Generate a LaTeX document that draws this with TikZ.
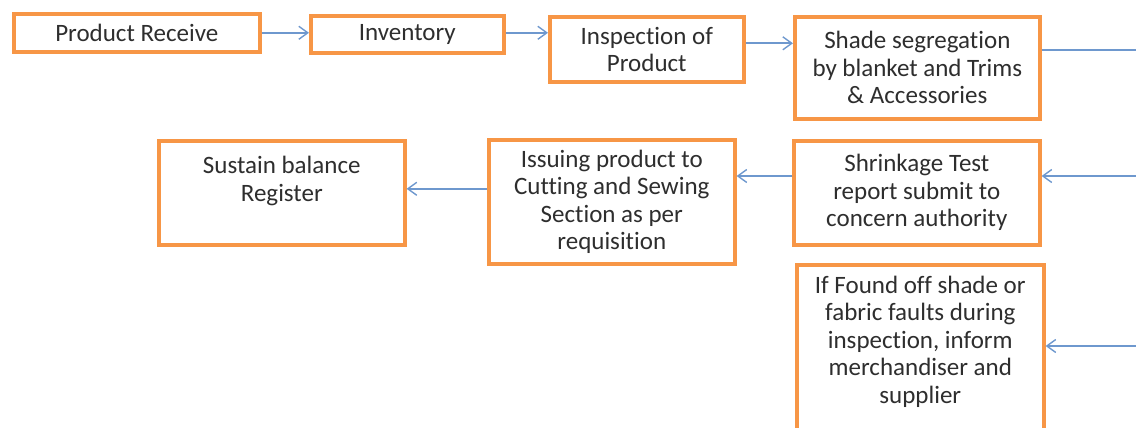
\documentclass[tikz,border=0pt]{standalone}
\usepackage{fontspec}
\setmainfont{Carlito}[Ligatures={NoCommon}]
\usetikzlibrary{arrows.meta}
\definecolor{boxorange}{RGB}{247,150,70}
\definecolor{flowblue}{RGB}{110,152,206}
\begin{document}
\begin{tikzpicture}[x=1pt,y=-1pt,
  box/.style={draw=boxorange,line width=3.6pt,fill=white,anchor=north west,align=center,inner sep=0pt,
    text=black!82,font=\fontsize{25}{27.5}\selectfont},
  flow/.style={draw=flowblue,line width=1.6pt,-{Straight Barb[length=9pt,width=13pt,line width=1.4pt]}}]
\useasboundingbox (0,0) rectangle (1136,428);
%\draw[help lines] (0,0) grid (1136,428);
\node[box,minimum width=246pt,minimum height=38pt] (PR) at (12,12) {Product Receive};
\node[box,minimum width=193pt,minimum height=37pt] (Inv) at (309,14) {Inventory};
\node[box,minimum width=194pt,minimum height=65pt] (Insp) at (548,15) {Inspection of\\Product};
\node[box,minimum width=245pt,minimum height=102pt] (Shade) at (793,15) {Shade segregation\\by blanket and Trims\\\& Accessories};
\node[box,minimum width=246pt,minimum height=104pt] (Sust) at (157,139) {Sustain balance\\Register\\\mbox{}};
\node[box,minimum width=246pt,minimum height=124pt] (Issue) at (487,138) {Issuing product to\\Cutting and Sewing\\Section as per\\requisition};
\node[box,minimum width=246pt,minimum height=104pt] (Shrink) at (792,139) {Shrinkage Test\\report submit to\\concern authority};
\node[box,minimum width=247pt,minimum height=177pt] (Fault) at (795,263) {If Found off shade or\\fabric faults during\\inspection, inform\\merchandiser and\\supplier\\\mbox{}};
\coordinate (EdgeA) at (1136,50);
\coordinate (EdgeB) at (1136,176);
\coordinate (EdgeC) at (1136,346);
\draw[flow] (PR.east) -- (PR.east -| Inv.west);
\draw[flow] ([yshift=1.5pt]Inv.east) -- ([yshift=1.5pt]Inv.east -| Insp.west);
\draw[flow] ([yshift=6pt]Insp.east) -- ([yshift=6pt]Insp.east -| Shade.west);
\draw[flowblue,line width=1.6pt] (Shade.east |- EdgeA) -- (EdgeA);
\draw[flow] (EdgeB) -- (EdgeB -| Shrink.east);
\draw[flow] (EdgeC) -- (EdgeC -| Fault.east);
\draw[flow] (Shrink.west |- EdgeB) -- (Issue.east |- EdgeB);
\draw[flow] ([yshift=13pt]Issue.west) -- ([yshift=13pt]Issue.west -| Sust.east);
\end{tikzpicture}
\end{document}
